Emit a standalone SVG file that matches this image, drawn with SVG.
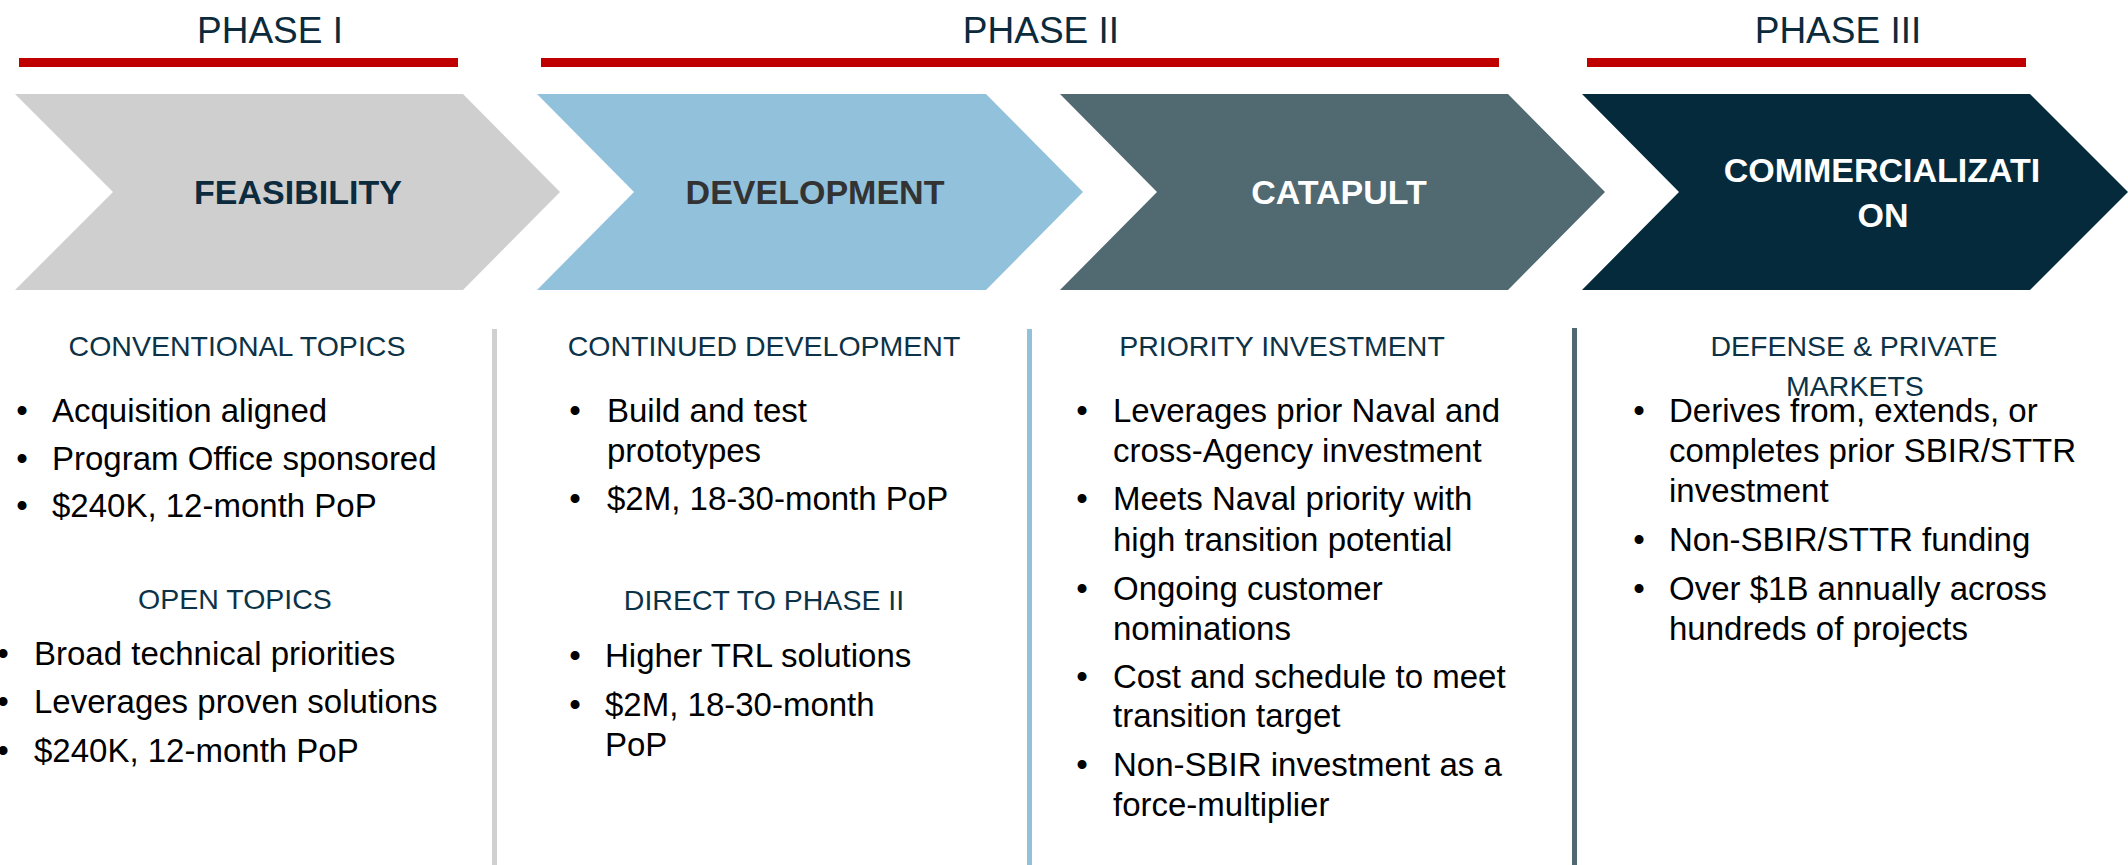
<svg xmlns="http://www.w3.org/2000/svg" width="2128" height="865" viewBox="0 0 2128 865">
<style>
text{font-family:"Liberation Sans",Arial,sans-serif}
.phase{font-size:37px;fill:#0B2B3C;text-anchor:middle}
.bar{fill:#C00000}
.lbl{font-size:34px;font-weight:bold;text-anchor:middle}
.hdr{font-size:28.5px;fill:#0C3247;text-anchor:middle}
.item{font-size:33px;fill:#000}
.dot{font-size:33px;fill:#000;text-anchor:middle}
</style>
<rect x="0" y="0" width="2128" height="865" fill="#FFFFFF"/>

<g id="phase-headers">
  <text class="phase" x="270" y="43">PHASE I</text>
  <rect class="bar" x="19" y="58" width="439" height="9"/>
  <text class="phase" x="1041" y="43">PHASE II</text>
  <rect class="bar" x="541" y="58" width="958" height="9"/>
  <text class="phase" x="1838" y="43">PHASE III</text>
  <rect class="bar" x="1587" y="58" width="439" height="9"/>
</g>

<g id="separators">
  <rect x="492" y="329" width="5" height="536" fill="#D0D0D0"/>
  <rect x="1027" y="329" width="5" height="536" fill="#92C1DB"/>
  <rect x="1572" y="328" width="5" height="537" fill="#516970"/>
</g>

<g id="feasibility">
  <polygon points="15,94 463,94 560,192 463,290 15,290 113,192" fill="#D0CFD0"/>
  <text class="lbl" x="298" y="204" fill="#0D2B3E">FEASIBILITY</text>
  <text class="hdr" x="237" y="356">CONVENTIONAL TOPICS</text>
  <text class="dot" x="22" y="422">•</text><text class="item" x="52" y="422">Acquisition aligned</text>
  <text class="dot" x="22" y="470">•</text><text class="item" x="52" y="470">Program Office sponsored</text>
  <text class="dot" x="22" y="517">•</text><text class="item" x="52" y="517">$240K, 12-month PoP</text>
  <text class="hdr" x="235" y="609">OPEN TOPICS</text>
  <text class="dot" x="3" y="665">•</text><text class="item" x="34" y="665">Broad technical priorities</text>
  <text class="dot" x="3" y="713">•</text><text class="item" x="34" y="713">Leverages proven solutions</text>
  <text class="dot" x="3" y="762">•</text><text class="item" x="34" y="762">$240K, 12-month PoP</text>
</g>

<g id="development">
  <polygon points="537,94 986,94 1083,192 986,290 537,290 634,192" fill="#92C1DB"/>
  <text class="lbl" x="815" y="204" fill="#333333">DEVELOPMENT</text>
  <text class="hdr" x="764" y="356">CONTINUED DEVELOPMENT</text>
  <text class="dot" x="575" y="422">•</text><text class="item" x="607" y="422">Build and test</text>
  <text class="item" x="607" y="462">prototypes</text>
  <text class="dot" x="575" y="510">•</text><text class="item" x="607" y="510">$2M, 18-30-month PoP</text>
  <text class="hdr" x="764" y="610">DIRECT TO PHASE II</text>
  <text class="dot" x="575" y="667">•</text><text class="item" x="605" y="667">Higher TRL solutions</text>
  <text class="dot" x="575" y="716">•</text><text class="item" x="605" y="716">$2M, 18-30-month</text>
  <text class="item" x="605" y="756">PoP</text>
</g>

<g id="catapult">
  <polygon points="1060,94 1508,94 1605,192 1508,290 1060,290 1157,192" fill="#516970"/>
  <text class="lbl" x="1339" y="204" fill="#FFFFFF">CATAPULT</text>
  <text class="hdr" x="1282" y="356">PRIORITY INVESTMENT</text>
  <text class="dot" x="1082" y="422">•</text><text class="item" x="1113" y="422">Leverages prior Naval and</text>
  <text class="item" x="1113" y="462">cross-Agency investment</text>
  <text class="dot" x="1082" y="510">•</text><text class="item" x="1113" y="510">Meets Naval priority with</text>
  <text class="item" x="1113" y="551">high transition potential</text>
  <text class="dot" x="1082" y="600">•</text><text class="item" x="1113" y="600">Ongoing customer</text>
  <text class="item" x="1113" y="640">nominations</text>
  <text class="dot" x="1082" y="688">•</text><text class="item" x="1113" y="688">Cost and schedule to meet</text>
  <text class="item" x="1113" y="727">transition target</text>
  <text class="dot" x="1082" y="776">•</text><text class="item" x="1113" y="776">Non-SBIR investment as a</text>
  <text class="item" x="1113" y="816">force-multiplier</text>
</g>

<g id="commercialization">
  <polygon points="1582,94 2030,94 2128,192 2030,290 1582,290 1679,192" fill="#052A3C"/>
  <text class="lbl" x="1882" y="182" fill="#FFFFFF">COMMERCIALIZATI</text>
  <text class="lbl" x="1883" y="227" fill="#FFFFFF">ON</text>
  <text class="hdr" x="1854" y="356">DEFENSE &amp; PRIVATE</text>
  <text class="hdr" x="1855" y="396">MARKETS</text>
  <text class="dot" x="1639" y="422">•</text><text class="item" x="1669" y="422">Derives from, extends, or</text>
  <text class="item" x="1669" y="462">completes prior SBIR/STTR</text>
  <text class="item" x="1669" y="502">investment</text>
  <text class="dot" x="1639" y="551">•</text><text class="item" x="1669" y="551">Non-SBIR/STTR funding</text>
  <text class="dot" x="1639" y="600">•</text><text class="item" x="1669" y="600">Over $1B annually across</text>
  <text class="item" x="1669" y="640">hundreds of projects</text>
</g>
</svg>
